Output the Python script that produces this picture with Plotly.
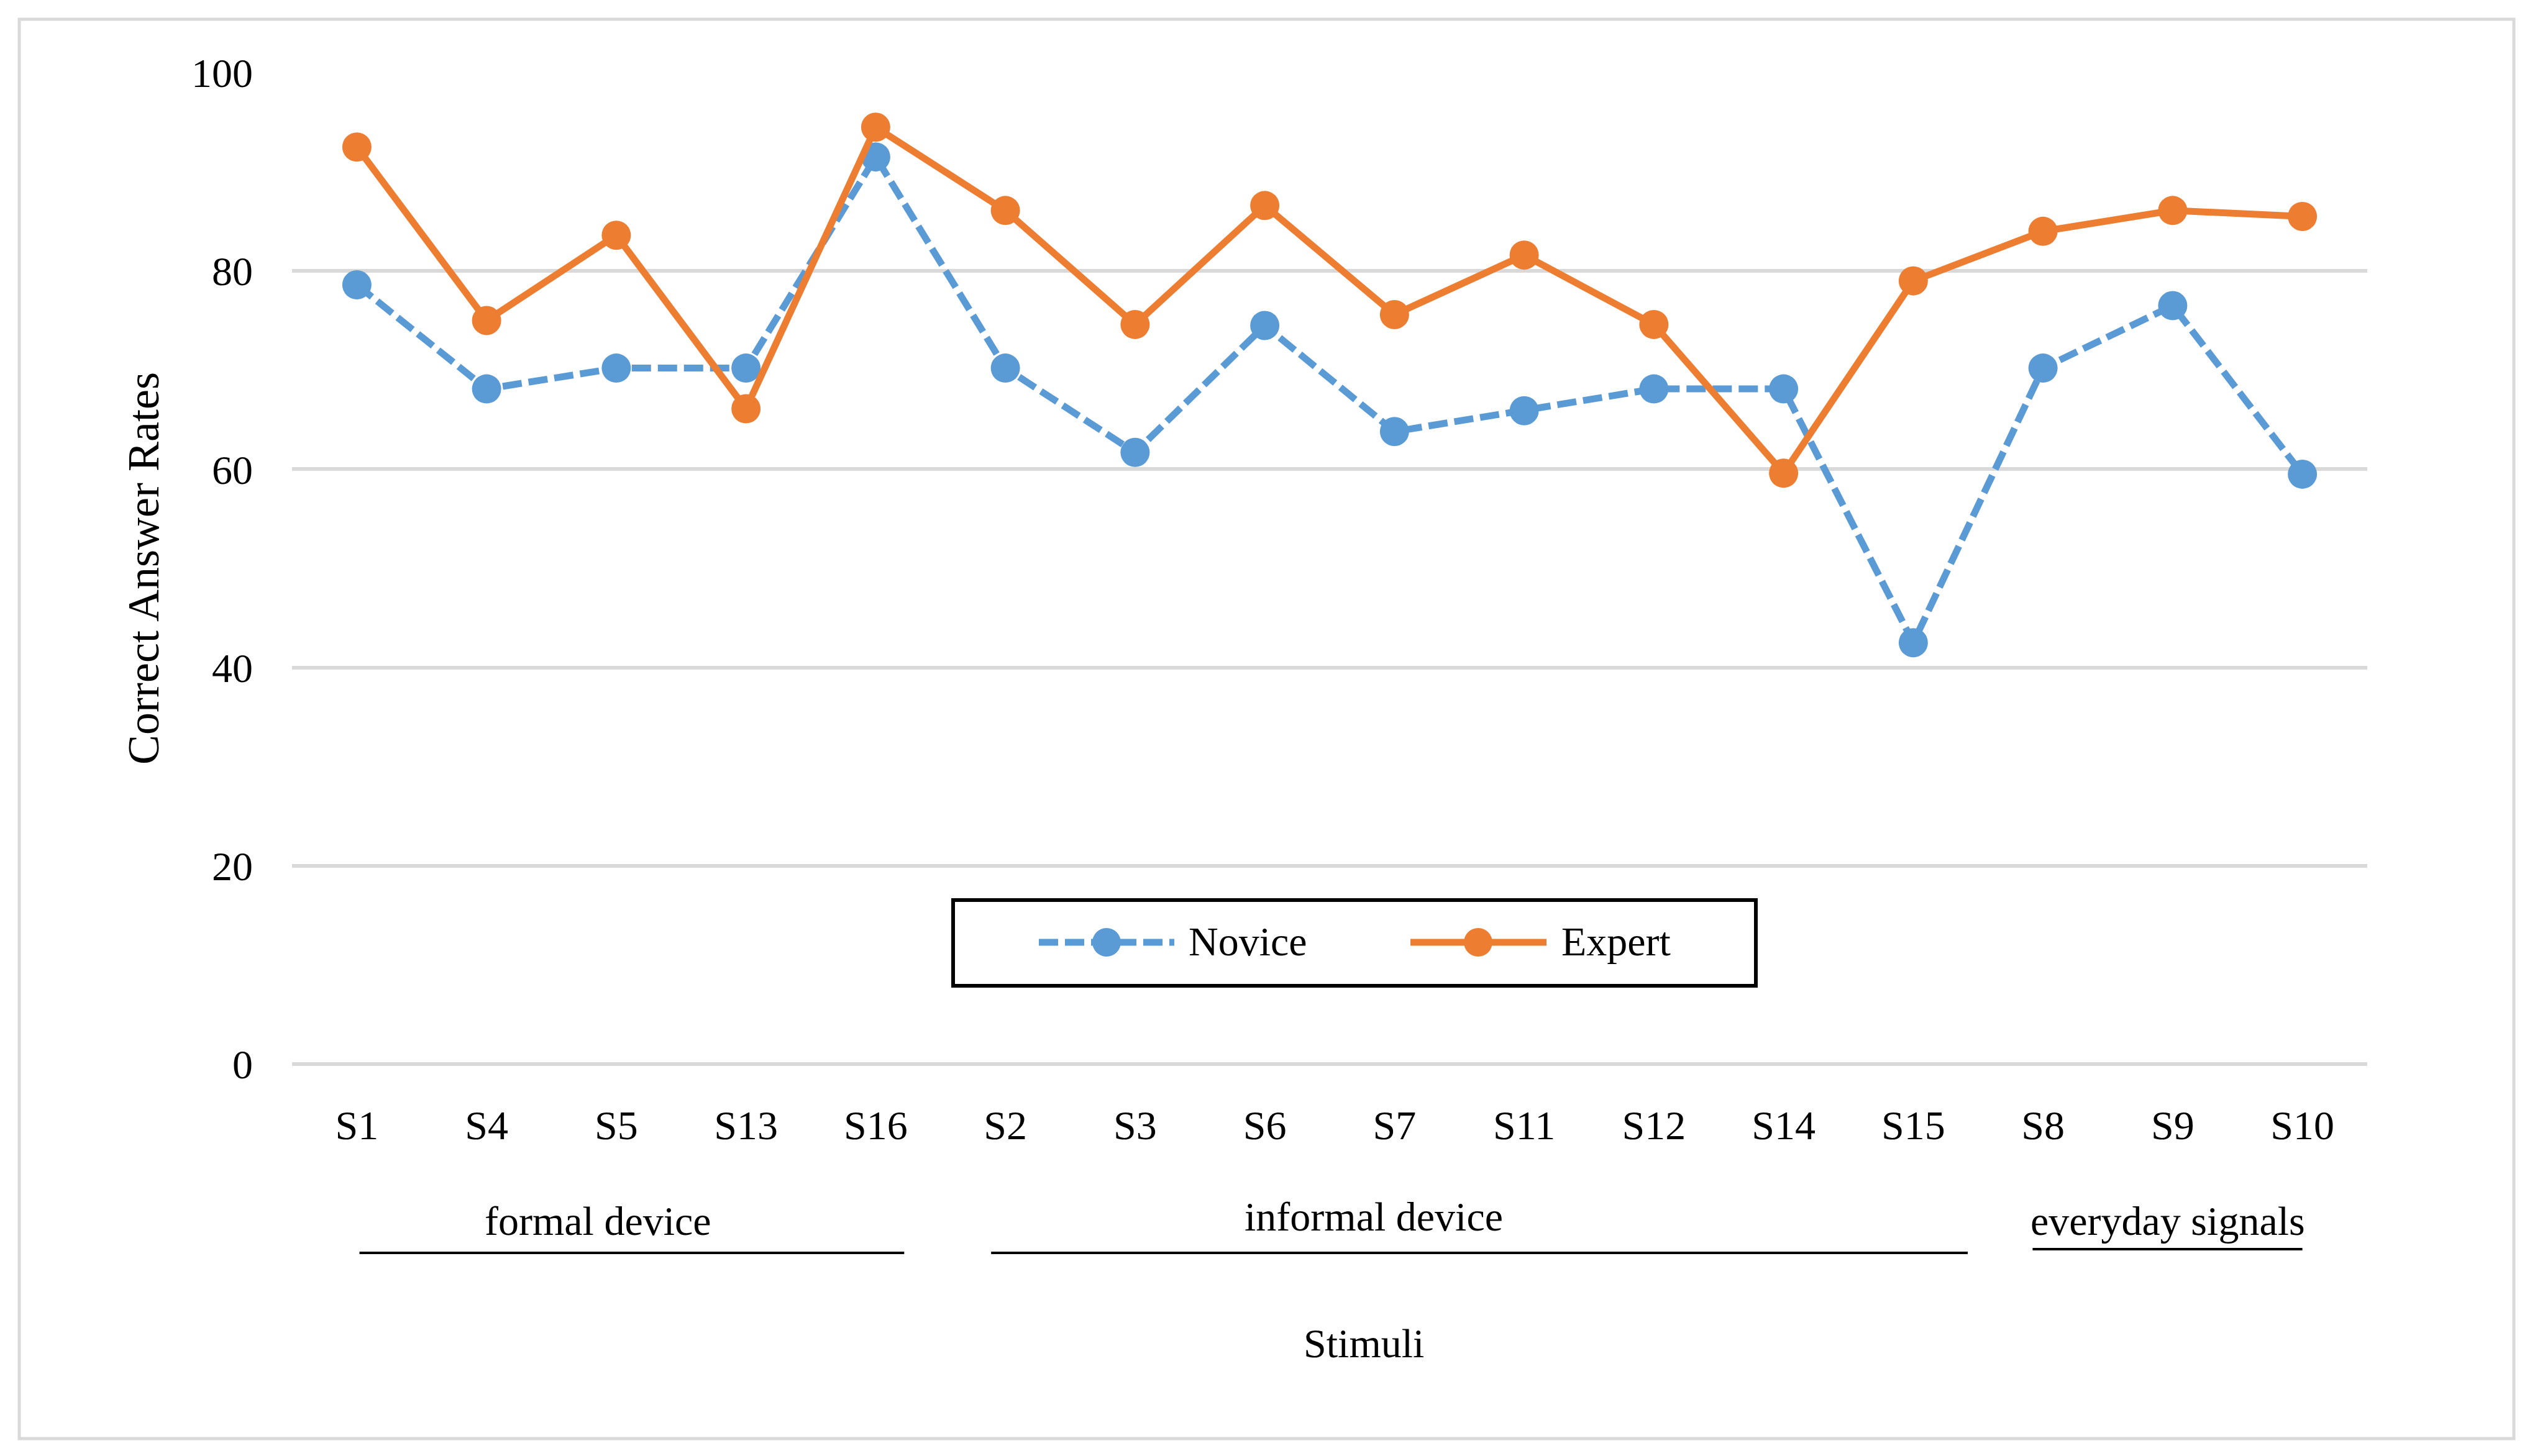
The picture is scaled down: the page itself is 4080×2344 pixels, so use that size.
import plotly.graph_objects as go

# ---------------- data ----------------
categories = ["S1", "S4", "S5", "S13", "S16", "S2", "S3", "S6", "S7", "S11",
              "S12", "S14", "S15", "S8", "S9", "S10"]
novice = [78.6, 68.1, 70.2, 70.2, 91.5, 70.2, 61.7, 74.5, 63.8, 65.9,
          68.1, 68.1, 42.5, 70.2, 76.5, 59.5]
expert = [92.5, 75.0, 83.6, 66.1, 94.5, 86.1, 74.6, 86.6, 75.6, 81.6,
          74.6, 59.6, 79.0, 84.0, 86.1, 85.5]
series_names = ["Novice", "Expert"]
y_ticks = [0, 20, 40, 60, 80, 100]
group_names = ["formal device", "informal device", "everyday signals"]
group_sizes = [5, 8, 3]
x_title = "Stimuli"
y_title = "Correct Answer Rates"

# ---------------- style / layout ----------------
W, H = 4080, 2344
L, R, T, B = 470, 270, 117, 631
FONT = "Liberation Serif"
FS = 66
BLUE = "#5B9BD5"
ORANGE = "#ED7D31"
GRID = "#D9D9D9"
DASH = "31px,11px"


def px(x):
    return (x - L) / (W - L - R)


def py(y):
    return (H - B - y) / (H - T - B)


# group decorations (offsets in category units relative to group span)
grp_label_dx = [-0.14, -0.66, -0.04]
grp_line_pad = [(0.02, 0.22), (-0.11, 0.42), (-0.08, 0.0)]
grp_label_base = [1987, 1981, 1987]
grp_line_y = [2017, 2017, 2011]

fig = go.Figure()
fig.add_trace(go.Scatter(
    x=categories, y=novice, name=series_names[0], mode="lines+markers",
    line=dict(color=BLUE, width=11, dash=DASH),
    marker=dict(color=BLUE, size=47, symbol="circle"),
    showlegend=False, hoverinfo="skip"))
fig.add_trace(go.Scatter(
    x=categories, y=expert, name=series_names[1], mode="lines+markers",
    line=dict(color=ORANGE, width=11),
    marker=dict(color=ORANGE, size=47, symbol="circle"),
    showlegend=False, hoverinfo="skip"))

shapes = []
annotations = []

# outer border of the chart area
shapes.append(dict(type="rect", xref="paper", yref="paper",
                   x0=px(31), x1=px(4046), y0=py(2316), y1=py(31),
                   line=dict(color=GRID, width=5), layer="below"))

# group labels and underline bars
start = 0
for i, (name, size) in enumerate(zip(group_names, group_sizes)):
    end = start + size - 1
    mid = (start + end) / 2
    annotations.append(dict(
        text=name, x=mid + grp_label_dx[i], xref="x",
        y=py(grp_label_base[i] - 22), yref="paper",
        xanchor="center", yanchor="middle", showarrow=False,
        font=dict(family=FONT, size=FS, color="black")))
    shapes.append(dict(
        type="line", xref="x", yref="paper",
        x0=start + grp_line_pad[i][0], x1=end + grp_line_pad[i][1],
        y0=py(grp_line_y[i]), y1=py(grp_line_y[i]),
        line=dict(color="black", width=4)))
    start = end + 1

# x axis title
annotations.append(dict(
    text=x_title, x=px(2195), xref="paper", y=py(2162), yref="paper",
    xanchor="center", yanchor="middle", showarrow=False,
    font=dict(family=FONT, size=FS, color="black")))

# custom legend box
shapes.append(dict(type="rect", xref="paper", yref="paper",
                   x0=px(1534), x1=px(2826), y0=py(1587), y1=py(1449),
                   line=dict(color="black", width=6), fillcolor="white"))
leg_y = 1517
leg_items = [
    (series_names[0], BLUE, DASH, 1672, 1890, 1781, 1911),
    (series_names[1], ORANGE, "solid", 2270, 2489, 2379, 2511),
]
for name, col, dash, lx0, lx1, mx, tx in leg_items:
    shapes.append(dict(type="line", xref="paper", yref="paper",
                       x0=px(lx0), x1=px(lx1), y0=py(leg_y), y1=py(leg_y),
                       line=dict(color=col, width=11, dash=dash)))
    shapes.append(dict(type="circle", xref="paper", yref="paper",
                       xsizemode="pixel", ysizemode="pixel",
                       xanchor=px(mx), yanchor=py(leg_y),
                       x0=-23, x1=23, y0=-23, y1=23,
                       fillcolor=col, line=dict(color=col, width=0)))
    annotations.append(dict(
        text=name, x=px(tx), xref="paper", y=py(1515), yref="paper",
        xanchor="left", yanchor="middle", showarrow=False,
        font=dict(family=FONT, size=FS, color="black")))

fig.update_layout(
    width=W, height=H,
    margin=dict(l=L, r=R, t=T, b=B, pad=0),
    paper_bgcolor="white", plot_bgcolor="white",
    font=dict(family=FONT, size=FS, color="black"),
    shapes=shapes, annotations=annotations,
    showlegend=False,
    xaxis=dict(type="category", categoryorder="array", categoryarray=categories,
               range=[-0.5, len(categories) - 0.5],
               showgrid=False, zeroline=False, showline=False, ticks="",
               ticklabelstandoff=54,
               tickfont=dict(family=FONT, size=FS, color="black")),
    yaxis=dict(range=[0, 100], tickvals=y_ticks, ticktext=[str(v) for v in y_ticks],
               showgrid=True, gridcolor=GRID, gridwidth=6,
               zeroline=True, zerolinecolor=GRID, zerolinewidth=6,
               showline=False, ticks="", ticklabelstandoff=62,
               tickfont=dict(family=FONT, size=FS, color="black"),
               title=dict(text=y_title, standoff=28,
                          font=dict(family=FONT, size=72, color="black"))),
)

fig.write_html("out.html", config={"displayModeBar": False},
               post_script="document.body.style.margin='0';document.body.style.overflow='hidden';")
